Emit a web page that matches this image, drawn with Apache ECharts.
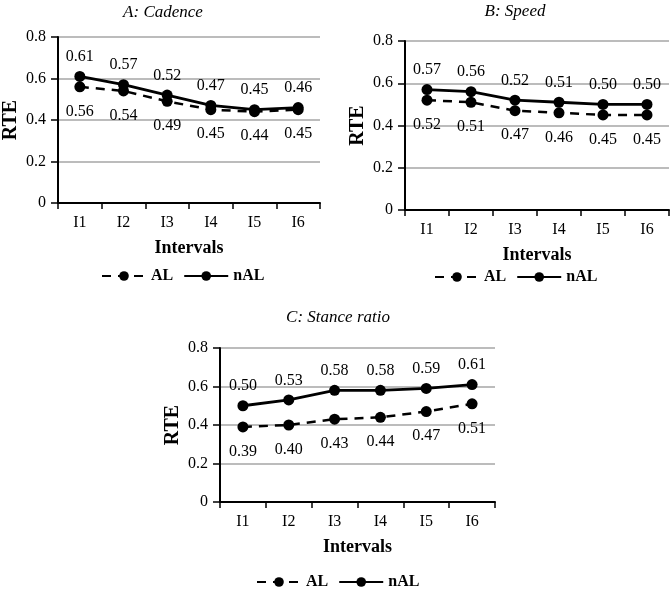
<!DOCTYPE html>
<html><head><meta charset="utf-8">
<script src="https://cdn.jsdelivr.net/npm/echarts@6/dist/echarts.min.js"></script>
<style>html,body{margin:0;padding:0;background:#fff}#c{width:672px;height:589px}</style>
</head><body><div id="c"></div>
<script>
const categories = ['I1','I2','I3','I4','I5','I6'];
const titles = ['A: Cadence','B: Speed','C: Stance ratio'];
const cadenceAL  = [0.56,0.54,0.49,0.45,0.44,0.45];
const cadenceNAL = [0.61,0.57,0.52,0.47,0.45,0.46];
const speedAL    = [0.52,0.51,0.47,0.46,0.45,0.45];
const speedNAL   = [0.57,0.56,0.52,0.51,0.50,0.50];
const stanceAL   = [0.39,0.40,0.43,0.44,0.47,0.51];
const stanceNAL  = [0.50,0.53,0.58,0.58,0.59,0.61];
const yTicks = [0,0.2,0.4,0.6,0.8];

const FONT = 'Liberation Serif';
const panels = [
  {grid:{left:57,top:37,width:263,height:166}, title:{x:158,y:-1}, legend:{x:96,y:263}, al:cadenceAL, nal:cadenceNAL},
  {grid:{left:405,top:41,width:264,height:169}, title:{x:510,y:-2}, legend:{x:429,y:264}, al:speedAL, nal:speedNAL},
  {grid:{left:220,top:348,width:275,height:154}, title:{x:333,y:304}, legend:{x:251,y:569}, al:stanceAL, nal:stanceNAL}
];

const option = {
  animation:false,
  backgroundColor:'#fff',
  title: panels.map((p,i)=>({text:titles[i], left:p.title.x, top:p.title.y, textAlign:'center',
    textStyle:{fontFamily:FONT, fontStyle:'italic', fontWeight:'normal', fontSize:17, color:'#000'}})),
  legend: panels.map((p,i)=>({left:p.legend.x, top:p.legend.y, data:['AL','nAL'], itemWidth:44, itemHeight:12, itemGap:10,
    textStyle:{fontFamily:FONT, fontWeight:'bold', fontSize:16, color:'#000'}})),
  grid: panels.map(p=>p.grid),
  xAxis: panels.map((p,i)=>({type:'category', gridIndex:i, data:categories, boundaryGap:true,
    name:'Intervals', nameLocation:'middle', nameGap:36,
    nameTextStyle:{fontFamily:FONT, fontWeight:'bold', fontSize:18, color:'#000'},
    axisLine:{lineStyle:{color:'#000', width:2}},
    axisTick:{show:true, length:6, lineStyle:{color:'#000', width:1.5}},
    axisLabel:{fontFamily:FONT, fontSize:16, color:'#000', margin:12},
    splitLine:{show:false}})),
  yAxis: panels.map((p,i)=>({type:'value', gridIndex:i, min:yTicks[0], max:yTicks[yTicks.length-1], interval:0.2,
    name:'RTE', nameLocation:'middle', nameGap:37, nameRotate:90,
    nameTextStyle:{fontFamily:FONT, fontWeight:'bold', fontSize:20, color:'#000'},
    axisLine:{show:true, lineStyle:{color:'#000', width:2}},
    axisTick:{show:true, length:7, lineStyle:{color:'#000', width:1.5}},
    axisLabel:{fontFamily:FONT, fontSize:16, color:'#000', margin:12, formatter:v=>String(Math.round(v*10)/10)},
    splitLine:{show:true, lineStyle:{color:'#a6a6a6', width:1.5}}})),
  series: []
};
panels.forEach((p,i)=>{
  option.series.push({name:'AL', type:'line', xAxisIndex:i, yAxisIndex:i, data:p.al,
    symbol:'circle', symbolSize:11, itemStyle:{color:'#000'},
    lineStyle:{color:'#000', width:2.5, type:[9,7]},
    label:{show:true, position:'bottom', distance:11, fontFamily:FONT, fontSize:16, color:'#000', formatter:d=>d.value.toFixed(2)}});
  option.series.push({name:'nAL', type:'line', xAxisIndex:i, yAxisIndex:i, data:p.nal,
    symbol:'circle', symbolSize:11, itemStyle:{color:'#000'},
    lineStyle:{color:'#000', width:2.8, type:'solid'},
    label:{show:true, position:'top', distance:6, fontFamily:FONT, fontSize:16, color:'#000', formatter:d=>d.value.toFixed(2)}});
});
const chart = echarts.init(document.getElementById('c'), null, {renderer:'canvas'});
chart.setOption(option);
</script></body></html>
